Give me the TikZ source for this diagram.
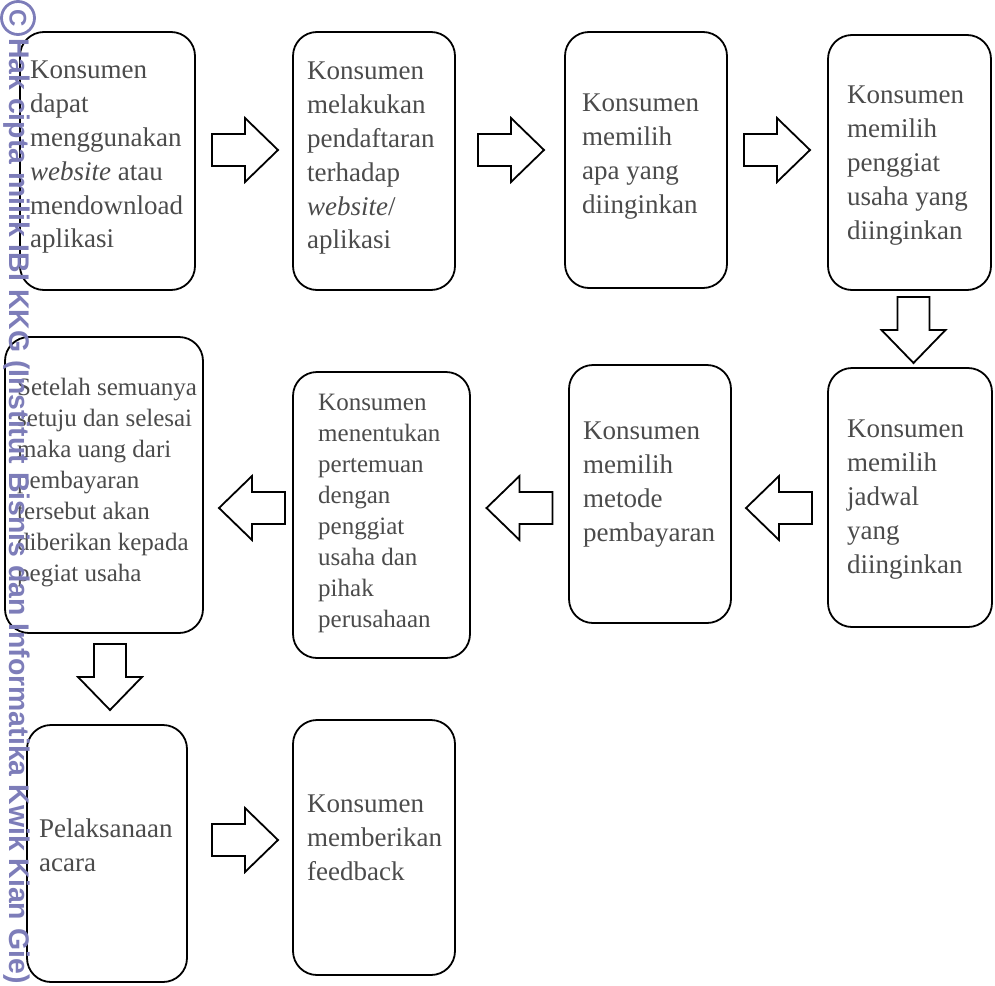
\documentclass[tikz,border=0pt]{standalone}
\usepackage{fontspec}
\setmainfont{Liberation Serif}
\newfontfamily\wmfont{Liberation Sans}
\usetikzlibrary{calc}
\definecolor{txt}{RGB}{75,75,75}
\definecolor{wm}{RGB}{125,125,185}
\begin{document}
\begin{tikzpicture}[x=1pt,y=-1pt,
  box/.style={draw=black, line width=1.8pt, rounded corners=24pt, inner sep=0pt},
  lbl/.style={anchor=north west, inner sep=0pt, align=left, text=txt, font=\fontsize{27}{33.8}\selectfont},
  lbls/.style={anchor=north west, inner sep=0pt, align=left, text=txt, font=\fontsize{25}{31}\selectfont},
  arr/.style={draw=black, line width=1.8pt, fill=white, line join=miter},
  pics/rarr/.style={code={\draw[arr] (-33,-16) -- (0,-16) -- (0,-32) -- (33,0) -- (0,32) -- (0,16) -- (-33,16) -- cycle;}},
  pics/larr/.style={code={\draw[arr] (33,-16) -- (0,-16) -- (0,-32) -- (-33,0) -- (0,32) -- (0,16) -- (33,16) -- cycle;}},
  pics/darr/.style={code={\draw[arr] (-16,-33) -- (-16,0) -- (-32,0) -- (0,33) -- (32,0) -- (16,0) -- (16,-33) -- cycle;}}
]
\useasboundingbox (0,0) rectangle (995,985);

% boxes
\node[box, minimum width=175pt, minimum height=258pt] (b1) at (107.5,161) {};
\node[box, minimum width=162pt, minimum height=258pt] (b2) at (374,161) {};
\node[box, minimum width=162pt, minimum height=256pt] (b3) at (646,160) {};
\node[box, minimum width=163pt, minimum height=255pt] (b4) at (909.5,162.5) {};
\node[box, minimum width=198pt, minimum height=296pt] (b5) at (104,485) {};
\node[box, minimum width=177pt, minimum height=286pt] (b6) at (381.5,515) {};
\node[box, minimum width=162pt, minimum height=258pt] (b7) at (650,494) {};
\node[box, minimum width=164pt, minimum height=259pt] (b8) at (910,497.5) {};
\node[box, minimum width=160pt, minimum height=257pt] (b9) at (107,853.5) {};
\node[box, minimum width=162pt, minimum height=255pt] (b10) at (374,847.5) {};

% texts
\node[lbl] (t1) at (30,61) {Konsumen\\dapat\\menggunakan\\\textit{website} atau\\mendownload\\aplikasi};
\node[lbl] (t2) at (307,62) {Konsumen\\melakukan\\pendaftaran\\terhadap\\\textit{website}/\\aplikasi};
\node[lbl] (t3) at (582,94) {Konsumen\\memilih\\apa yang\\diinginkan};
\node[lbl] (t4) at (847,86) {Konsumen\\memilih\\penggiat\\usaha yang\\diinginkan};
\node[lbls] (t5) at (17,378) {Setelah semuanya\\setuju dan selesai\\maka uang dari\\pembayaran\\tersebut akan\\diberikan kepada\\pegiat usaha};
\node[lbls] (t6) at (318,393.5) {Konsumen\\menentukan\\pertemuan\\dengan\\penggiat\\usaha dan\\pihak\\perusahaan};
\node[lbl] (t7) at (583,422) {Konsumen\\memilih\\metode\\pembayaran};
\node[lbl] (t8) at (847,420) {Konsumen\\memilih\\jadwal\\yang\\diinginkan};
\node[lbl] (t9) at (39,819) {Pelaksanaan\\acara};
\node[lbl] (t10) at (307,795) {Konsumen\\memberikan\\feedback};

% block arrows
\pic at (245,150) {rarr};
\pic at (511,150) {rarr};
\pic at (777,150) {rarr};
\pic at (913.5,330) {darr};
\pic at (779,508) {larr};
\pic at (519.5,508) {larr};
\pic at (252,508) {larr};
\pic at (110,677) {darr};
\pic at (245,840) {rarr};

% watermark
\node[circle, draw=wm, line width=2.8pt, minimum size=33pt, inner sep=0pt, text=wm, rotate=-90,
      font=\wmfont\bfseries\fontsize{24}{24}\selectfont] (wmc) at (18,18) {C};
\node[anchor=west, rotate=-90, inner sep=0pt, text=wm, font=\wmfont\bfseries\fontsize{28.4}{28.4}\selectfont] (wmt) at (17,38)
  {Hak cipta milik IBI KKG (Institut Bisnis dan Informatika Kwik Kian Gie)};
\end{tikzpicture}
\end{document}
